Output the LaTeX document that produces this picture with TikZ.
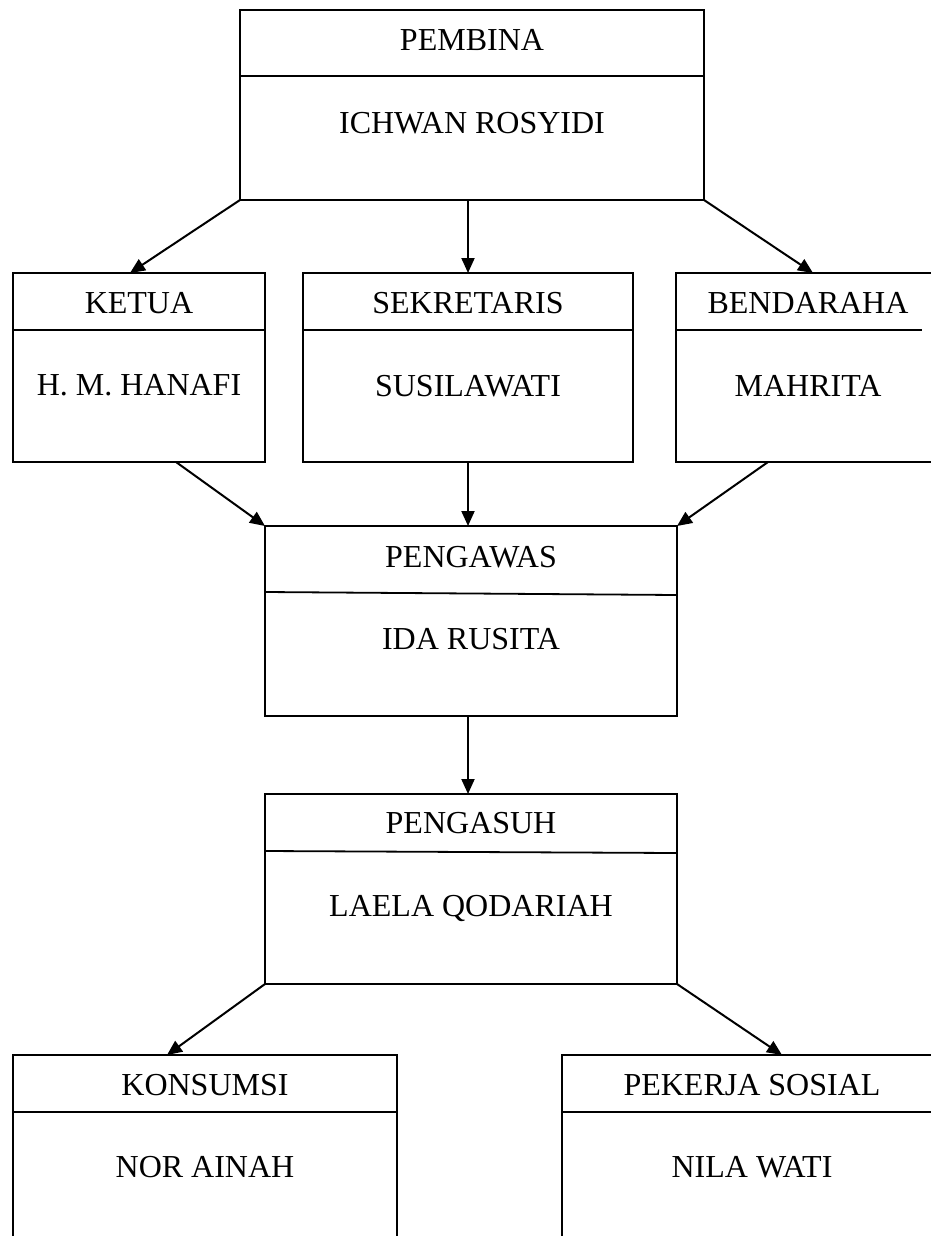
\documentclass[tikz,border=0pt]{standalone}
\usepackage{fontspec}
\setmainfont{Liberation Serif}
\usetikzlibrary{arrows.meta}
\begin{document}
\begin{tikzpicture}[x=1pt,y=-1pt,
  orgbox/.style={draw,line width=1.8pt,rectangle,inner sep=0pt,outer sep=0pt,anchor=north west},
  divline/.style={line width=1.8pt},
  lbl/.style={anchor=base,inner sep=0pt,font=\fontsize{32}{38}\selectfont},
  conn/.style={line width=2pt,-{Triangle[length=15pt,width=13pt]}}]
\useasboundingbox (0,0) rectangle (931,1236);
\clip (0,0) rectangle (931,1236);
% boxes
\node[orgbox,minimum width=464pt,minimum height=190pt] (pembina) at (240,10) {};
\node[orgbox,minimum width=252pt,minimum height=189pt] (ketua) at (13,273) {};
\node[orgbox,minimum width=330pt,minimum height=189pt] (sekretaris) at (303,273) {};
\node[orgbox,minimum width=264pt,minimum height=189pt] (bendahara) at (676,273) {};
\node[orgbox,minimum width=412pt,minimum height=190pt] (pengawas) at (265,526) {};
\node[orgbox,minimum width=412pt,minimum height=190pt] (pengasuh) at (265,794) {};
\node[orgbox,minimum width=384pt,minimum height=220pt] (konsumsi) at (13,1055) {};
\node[orgbox,minimum width=380pt,minimum height=220pt] (pekerja) at (562,1055) {};
% dividers
\draw[divline] (240,76) -- (704,76);
\draw[divline] (13,330) -- (265,330);
\draw[divline] (303,330) -- (633,330);
\draw[divline] (676,330) -- (922,330);
\draw[divline] (265,592) -- (677,595);
\draw[divline] (265,851) -- (677,853);
\draw[divline] (13,1112) -- (397,1112);
\draw[divline] (562,1112) -- (942,1112);
% texts
\node[lbl] (t1) at (472,51) {PEMBINA};
\node[lbl] (t2) at (472,133) {ICHWAN ROSYIDI};
\node[lbl] (t3) at (139,313) {KETUA};
\node[lbl] (t4) at (139,395) {H. M. HANAFI};
\node[lbl] (t5) at (468,313) {SEKRETARIS};
\node[lbl] (t6) at (468,396) {SUSILAWATI};
\node[lbl] (t7) at (808,313) {BENDARAHA};
\node[lbl] (t8) at (808,396) {MAHRITA};
\node[lbl] (t9) at (471,567) {PENGAWAS};
\node[lbl] (t10) at (471,649) {IDA RUSITA};
\node[lbl] (t11) at (471,833) {PENGASUH};
\node[lbl] (t12) at (471,916) {LAELA QODARIAH};
\node[lbl] (t13) at (205,1095) {KONSUMSI};
\node[lbl] (t14) at (205,1177) {NOR AINAH};
\node[lbl] (t15) at (752,1095) {PEKERJA SOSIAL};
\node[lbl] (t16) at (752,1177) {NILA WATI};
% connectors
\draw[conn] (pembina.south west) -- ([xshift=117pt]ketua.north west);
\draw[conn] ([xshift=228pt]pembina.south west) -- ([xshift=165pt]sekretaris.north west);
\draw[conn] (pembina.south east) -- ([xshift=137pt]bendahara.north west);
\draw[conn] ([xshift=163pt]ketua.south west) -- (pengawas.north west);
\draw[conn] ([xshift=165pt]sekretaris.south west) -- ([xshift=203pt]pengawas.north west);
\draw[conn] ([xshift=92pt]bendahara.south west) -- (pengawas.north east);
\draw[conn] ([xshift=203pt]pengawas.south west) -- ([xshift=203pt]pengasuh.north west);
\draw[conn] (pengasuh.south west) -- ([xshift=154pt]konsumsi.north west);
\draw[conn] (pengasuh.south east) -- ([xshift=220pt]pekerja.north west);
\end{tikzpicture}
\end{document}
